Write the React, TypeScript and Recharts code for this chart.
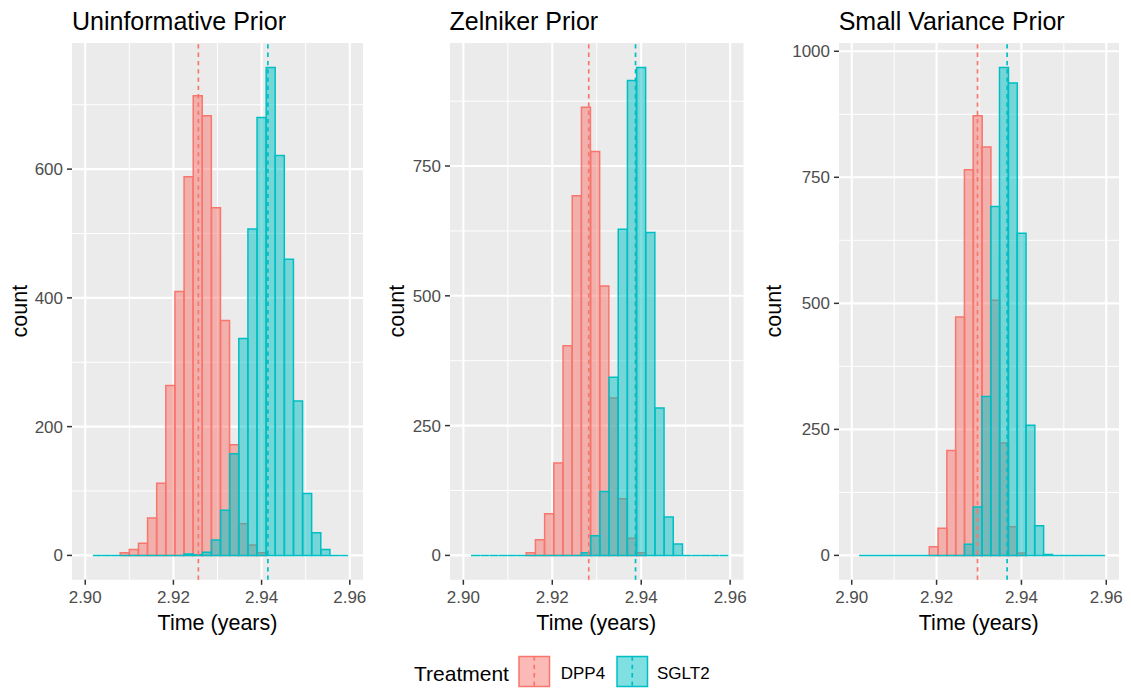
import React from 'react';
import { ComposedChart, Bar, XAxis, YAxis, CartesianGrid, ReferenceLine } from 'recharts';

// Bin centres (years) shared by all three panels
const binCenters = [2.90276, 2.90483, 2.9069, 2.90897, 2.91103, 2.9131, 2.91517, 2.91724, 2.91931, 2.92138, 2.92345, 2.92552, 2.92759, 2.92966, 2.93172, 2.93379, 2.93586, 2.93793, 2.94, 2.94207, 2.94414, 2.94621, 2.94828, 2.95034, 2.95241, 2.95448, 2.95655, 2.95862];

// Panel 1: Uninformative Prior
const uninfDPP4 = [0, 0, 0, 4, 9, 19, 58, 112, 264, 410, 588, 714, 683, 540, 365, 172, 49, 16, 4, 0, 0, 0, 0, 0, 0, 0, 0, 0];
const uninfSGLT2 = [0, 0, 0, 0, 0, 0, 0, 0, 0, 0, 2, 1, 5, 24, 70, 158, 337, 507, 680, 758, 621, 460, 240, 96, 35, 9, 0, 0];
// Panel 2: Zelniker Prior
const zelDPP4 = [0, 0, 0, 0, 0, 0, 5, 30, 80, 178, 404, 693, 863, 778, 519, 303, 109, 33, 5, 0, 0, 0, 0, 0, 0, 0, 0, 0];
const zelSGLT2 = [0, 0, 0, 0, 0, 0, 0, 0, 0, 0, 0, 0, 5, 38, 123, 343, 628, 915, 940, 622, 284, 74, 22, 0, 0, 0, 0, 0];
// Panel 3: Small Variance Prior
const smallDPP4 = [0, 0, 0, 0, 0, 0, 0, 0, 17, 54, 208, 473, 765, 872, 810, 506, 223, 57, 5, 0, 0, 0, 0, 0, 0, 0, 0, 0];
const smallSGLT2 = [0, 0, 0, 0, 0, 0, 0, 0, 0, 0, 0, 0, 22, 96, 315, 692, 968, 937, 639, 258, 59, 2, 0, 0, 0, 0, 0, 0];

// Posterior means (dashed lines)
const meansDPP4 = [2.92566, 2.9282, 2.92965];
const meansSGLT2 = [2.94143, 2.93872, 2.93663];

const titles = ['Uninformative Prior', 'Zelniker Prior', 'Small Variance Prior'];
const xTicks = [2.9, 2.92, 2.94, 2.96];
const xMinor = [2.91, 2.93, 2.95];
const yTicks1 = [0, 200, 400, 600];
const yMinor1 = [100, 300, 500, 700];
const yTicks2 = [0, 250, 500, 750];
const yMinor2 = [125, 375, 625, 875];
const yTicks3 = [0, 250, 500, 750, 1000];
const yMinor3 = [125, 375, 625, 875];
const xLimits = [2.897, 2.963];
const legendLabels = ['DPP4', 'SGLT2'];

const RED = '#F8766D';
const TEAL = '#00BFC4';
const FONT = 'Arial, "Liberation Sans", sans-serif';

const makeRows = (a: number[], b: number[]) =>
  binCenters.map((x, i) => ({ x, dpp4: a[i], sglt2: b[i] }));

const panels = [
  { rows: makeRows(uninfDPP4, uninfSGLT2), yt: yTicks1, ym: yMinor1, max: Math.max(...uninfDPP4, ...uninfSGLT2) },
  { rows: makeRows(zelDPP4, zelSGLT2), yt: yTicks2, ym: yMinor2, max: Math.max(...zelDPP4, ...zelSGLT2) },
  { rows: makeRows(smallDPP4, smallSGLT2), yt: yTicks3, ym: yMinor3, max: Math.max(...smallDPP4, ...smallSGLT2) },
];

// layout of plot panels
const plotLeft = [72, 449.5, 838.7];
const plotWidth = [291, 293.5, 280];
const plotTop = 42.7;
const plotHeight = 536.8;
const yAxisW = 60;
const xAxisH = 35;
const rightPad = 24;
const countX = [27, 404, 781];

const HistBar = (props: any) => {
  const { x, y, width, height, color, skipZero } = props;
  if (x == null || y == null || width == null || height == null) return null;
  const top = Math.min(y, y + height);
  const h = Math.abs(height);
  if (skipZero && h < 0.01) return null;
  const d = `M${x},${top + h}L${x},${top}L${x + width},${top}L${x + width},${top + h}Z`;
  return <path d={d} fill={color} fillOpacity={0.5} stroke={color} strokeWidth={1.5} />;
};

const Panel = ({ idx }: { idx: number }) => {
  const p = panels[idx];
  const W = plotWidth[idx] + yAxisW + rightPad;
  const H = plotHeight + xAxisH;
  return (
    <div style={{ position: 'absolute', left: plotLeft[idx] - yAxisW, top: plotTop, width: W, height: H }}>
      <ComposedChart
        width={W}
        height={H}
        data={p.rows}
        margin={{ top: 0, right: rightPad, bottom: 0, left: 0 }}
        barCategoryGap={0}
        barGap={0}
      >
        <CartesianGrid xAxisId="a" fill="#EBEBEB" stroke="#FFFFFF" strokeWidth={1} verticalValues={xMinor} horizontalValues={p.ym} />
        <CartesianGrid xAxisId="a" stroke="#FFFFFF" strokeWidth={2.1} verticalValues={xTicks} horizontalValues={p.yt} />
        <XAxis
          xAxisId="a"
          dataKey="x"
          type="number"
          domain={xLimits}
          allowDataOverflow
          ticks={xTicks}
          interval={0}
          tickFormatter={(v: number) => v.toFixed(2)}
          height={xAxisH}
          tickSize={5}
          tickMargin={6}
          axisLine={false}
          tickLine={{ stroke: '#333333', strokeWidth: 1.5 }}
          tick={{ fill: '#4D4D4D', fontSize: 17, fontFamily: FONT }}
        />
        <XAxis xAxisId="b" dataKey="x" type="number" domain={xLimits} allowDataOverflow hide />
        <YAxis
          type="number"
          domain={[-0.05 * p.max, 1.05 * p.max]}
          allowDataOverflow
          ticks={p.yt}
          interval={0}
          width={yAxisW}
          tickSize={5}
          tickMargin={4}
          axisLine={false}
          tickLine={{ stroke: '#333333', strokeWidth: 1.5 }}
          tick={{ fill: '#4D4D4D', fontSize: 17, fontFamily: FONT }}
        />
        <Bar xAxisId="a" dataKey="dpp4" isAnimationActive={false} shape={(s: any) => <HistBar {...s} color={RED} skipZero />} />
        <Bar xAxisId="b" dataKey="sglt2" isAnimationActive={false} shape={(s: any) => <HistBar {...s} color={TEAL} />} />
        <ReferenceLine xAxisId="a" x={meansDPP4[idx]} stroke={RED} strokeWidth={1.7} strokeDasharray="4.3 4" />
        <ReferenceLine xAxisId="a" x={meansSGLT2[idx]} stroke={TEAL} strokeWidth={1.7} strokeDasharray="4.3 4" />
      </ComposedChart>
    </div>
  );
};

export default function App() {
  const midY = plotTop + plotHeight / 2;
  return (
    <div style={{ position: 'absolute', left: 0, top: 0, width: 1131, height: 688, background: '#FFFFFF', overflow: 'hidden' }}>
      <svg width={1131} height={688} style={{ position: 'absolute', left: 0, top: 0 }} fontFamily={FONT}>
        {titles.map((t, i) => (
          <text key={t} x={plotLeft[i]} y={29.5} fontSize={25} fill="#000000">{t}</text>
        ))}
        {titles.map((t, i) => (
          <text key={'xt' + i} x={plotLeft[i] + plotWidth[i] / 2} y={630} fontSize={21.5} fill="#000000" textAnchor="middle">Time (years)</text>
        ))}
        {titles.map((t, i) => (
          <text key={'yt' + i} x={countX[i]} y={midY} fontSize={21.5} fill="#000000" textAnchor="middle" transform={`rotate(-90 ${countX[i]} ${midY})`}>count</text>
        ))}
        <text x={414} y={680.5} fontSize={21} fill="#000000">Treatment</text>
        {[RED, TEAL].map((c, i) => {
          const bx = i === 0 ? 519 : 617;
          return (
            <g key={c}>
              <rect x={bx} y={656.5} width={30.5} height={30} fill={c} fillOpacity={0.5} stroke={c} strokeWidth={1.5} />
              <line x1={bx + 15.25} x2={bx + 15.25} y1={656.5} y2={686.5} stroke={c} strokeWidth={1.7} strokeDasharray="4.3 4" />
              <text x={i === 0 ? 560.7 : 657} y={679} fontSize={17} fill="#000000">{legendLabels[i]}</text>
            </g>
          );
        })}
      </svg>
      <Panel idx={0} />
      <Panel idx={1} />
      <Panel idx={2} />
    </div>
  );
}
